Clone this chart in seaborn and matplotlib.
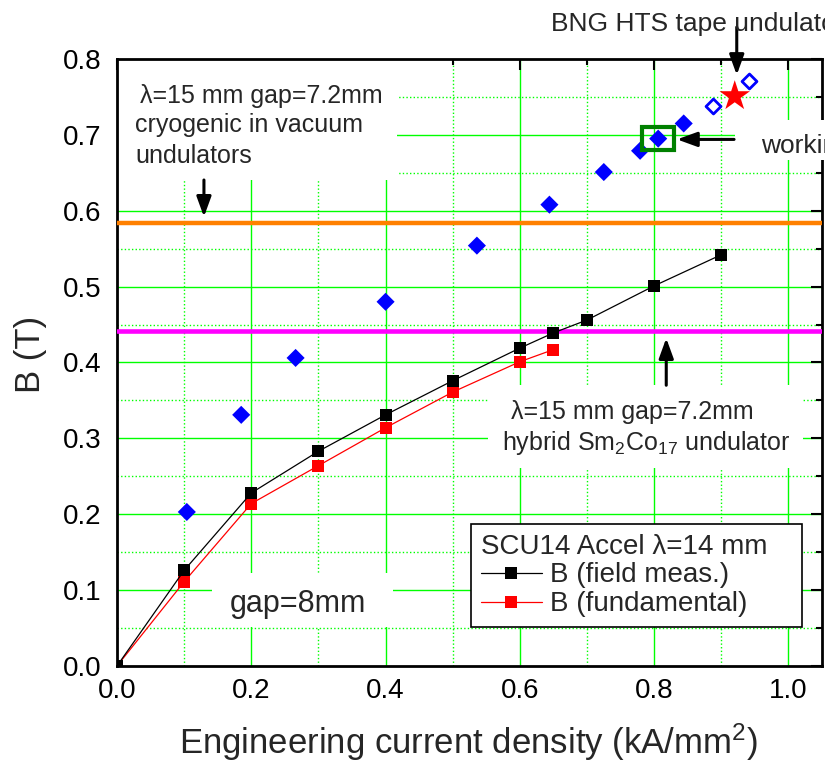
import numpy as np
import matplotlib
matplotlib.use('Agg')
import matplotlib.pyplot as plt
import matplotlib.patches as patches
from matplotlib.ticker import MultipleLocator
import seaborn as sns

# SCU14 Accel, lambda = 14 mm, gap = 8 mm
j_meas = [0.0, 0.1, 0.2, 0.3, 0.4, 0.5, 0.6, 0.65, 0.7, 0.8, 0.9]
b_meas = [0.0, 0.126, 0.228, 0.283, 0.331, 0.376, 0.419, 0.439, 0.456, 0.501, 0.542]
j_fund = [0.0, 0.1, 0.2, 0.3, 0.4, 0.5, 0.6, 0.65]
b_fund = [0.0, 0.111, 0.214, 0.264, 0.314, 0.361, 0.401, 0.417]

# HTS tape undulator points (blue diamonds)
j_hts = [0.104, 0.185, 0.266, 0.400, 0.536, 0.644, 0.725, 0.779, 0.806, 0.844]
b_hts = [0.203, 0.331, 0.406, 0.480, 0.554, 0.608, 0.651, 0.679, 0.695, 0.715]
j_hts_open = [0.887, 0.941]
b_hts_open = [0.738, 0.771]
j_bng = [0.92]
b_bng = [0.751]
work_idx = 8  # working point (green box)

# reference permanent magnet undulators
b_cryo = 0.584
b_hybrid = 0.441

sns.set_style("white")
plt.rcParams['font.family'] = ['Liberation Sans', 'DejaVu Sans']
plt.rcParams['mathtext.fontset'] = 'custom'
plt.rcParams['mathtext.rm'] = 'Liberation Sans'
plt.rcParams['mathtext.it'] = 'Liberation Sans:italic'
plt.rcParams['mathtext.default'] = 'regular'

fig = plt.figure(figsize=(8.25, 7.62), dpi=100)
ax = fig.add_axes([0.1418, 0.126, 0.8546, 0.7966])
ax.set_xlim(0, 1.05)
ax.set_ylim(0, 0.8)
ax.xaxis.set_major_locator(MultipleLocator(0.2))
ax.xaxis.set_minor_locator(MultipleLocator(0.1))
ax.yaxis.set_major_locator(MultipleLocator(0.1))
ax.yaxis.set_minor_locator(MultipleLocator(0.05))

# grid (drawn by hand so the white text masks sit above it but below the ticks)
green = '#00FF00'
dots = (0, (1, 1.6))
for v in ax.get_xticks():
    if 0 < v < 1.05:
        ax.axvline(v, color=green, lw=1.0, zorder=0.5)
for v in ax.get_xticks(minor=True):
    if 0 < v < 1.05 and abs(v / 0.2 - round(v / 0.2)) > 1e-6:
        ax.axvline(v, color=green, lw=1.0, ls=dots, zorder=0.5)
for v in ax.get_yticks():
    if 0 < v < 0.8:
        ax.axhline(v, color=green, lw=1.0, zorder=0.5)
for v in ax.get_yticks(minor=True):
    if 0 < v < 0.8 and abs(v / 0.1 - round(v / 0.1)) > 1e-6:
        ax.axhline(v, color=green, lw=1.0, ls=dots, zorder=0.5)


def mask(x0, y0, x1, y1, z=1):
    ax.add_patch(patches.Rectangle((x0, y0), x1 - x0, y1 - y0, transform=ax.transAxes,
                                   fc='white', ec='none', zorder=z, clip_on=False))


mask(0.0, 0.80, 0.397, 1.0)
mask(0.526, 0.326, 0.973, 0.463)
mask(0.135, 0.064, 0.391, 0.153)
mask(0.877, 0.834, 1.02, 0.8995, z=3)

ax.axhline(b_cryo, color='#FF8000', lw=3.2, zorder=3)
ax.axhline(b_hybrid, color='#FF00FF', lw=3.3, zorder=3)

sns.lineplot(x=j_meas, y=b_meas, ax=ax, color='black', lw=0.9, marker='s', markersize=9,
             markeredgewidth=0, label='B (field meas.)', zorder=6)
sns.lineplot(x=j_fund, y=b_fund, ax=ax, color='red', lw=0.9, marker='s', markersize=9,
             markeredgewidth=0, label='B (fundamental)', zorder=5)

sns.scatterplot(x=j_hts, y=b_hts, ax=ax, marker='D', s=85, color='blue', edgecolor='none',
                linewidth=0, zorder=4, legend=False)
sns.scatterplot(x=j_hts_open, y=b_hts_open, ax=ax, marker='D', s=58, color='white',
                edgecolor='blue', linewidth=2, zorder=4, legend=False)
sns.scatterplot(x=j_bng, y=b_bng, ax=ax, marker='*', s=530, color='red', edgecolor='none',
                linewidth=0, zorder=5, legend=False)

bw, bh = 0.0476, 0.030
ax.add_patch(patches.Rectangle((j_hts[work_idx] - bw / 2, b_hts[work_idx] - bh / 2), bw, bh,
                               fill=False, ec='#008000', lw=3, zorder=6))

# arrows
arrow = dict(arrowstyle='-|>,head_length=0.55,head_width=0.2', color='black', lw=2.2,
             mutation_scale=22, shrinkA=0, shrinkB=0)
ax.annotate('', xy=(0.1295, 0.592), xytext=(0.1295, 0.6405), arrowprops=arrow, zorder=7)
ax.annotate('', xy=(0.923, 0.779), xytext=(0.923, 0.842), arrowprops=arrow, zorder=7,
            annotation_clip=False)
ax.annotate('', xy=(0.834, 0.694), xytext=(0.919, 0.694), arrowprops=arrow, zorder=7,
            annotation_clip=False)
ax.annotate('', xy=(0.818, 0.432), xytext=(0.818, 0.370), arrowprops=arrow, zorder=7)

# texts
tk = dict(fontsize=18, va='baseline', ha='left', zorder=8, clip_on=False)
ax.text(0.034, 0.7416, 'λ=15 mm gap=7.2mm', **tk)
ax.text(0.027, 0.7034, 'cryogenic in vacuum', **tk)
ax.text(0.027, 0.6625, 'undulators', **tk)
ax.text(0.587, 0.325, 'λ=15 mm gap=7.2mm', **tk)
ax.text(0.574, 0.2847, 'hybrid Sm$_2$Co$_{17}$ undulator', **tk)
ax.text(0.647, 0.837, 'BNG HTS tape undulator', fontsize=19, va='baseline', ha='left',
        zorder=8)
ax.text(0.959, 0.6757, 'working point', fontsize=19, va='baseline', ha='left', zorder=8)
ax.text(0.168, 0.0716, 'gap=8mm', fontsize=22, va='baseline', ha='left', zorder=8)

# legend
handles, labels = ax.get_legend_handles_labels()
leg = ax.legend(handles, labels, title='SCU14 Accel λ=14 mm', loc='upper left',
                bbox_to_anchor=(0.502, 0.058, 0.4695, 0.176), mode='expand', borderaxespad=0,
                fontsize=20, title_fontsize=20, frameon=True, fancybox=False,
                edgecolor='black', framealpha=1, handlelength=2.2, handletextpad=0.3,
                labelspacing=0.1, borderpad=0.35, alignment='left')
leg.get_frame().set_linewidth(1.2)
leg.set_zorder(10)

# axes styling
for s in ax.spines.values():
    s.set_linewidth(2)
    s.set_color('black')
ax.tick_params(which='both', direction='in', top=True, right=True, width=1.5,
               labelsize=20, colors='black')
ax.tick_params(which='major', length=8)
ax.tick_params(which='minor', length=4.3)
ax.tick_params(axis='x', which='major', pad=8.4)
ax.tick_params(axis='y', which='major', pad=11)

ax.set_xlabel('Engineering current density (kA/mm$^2$)', fontsize=25)
ax.set_ylabel('B (T)', fontsize=25)
ax.xaxis.set_label_coords(0.499, -0.092)
ax.yaxis.set_label_coords(-0.0993, 0.513)

fig.savefig('out.png', dpi=100)
